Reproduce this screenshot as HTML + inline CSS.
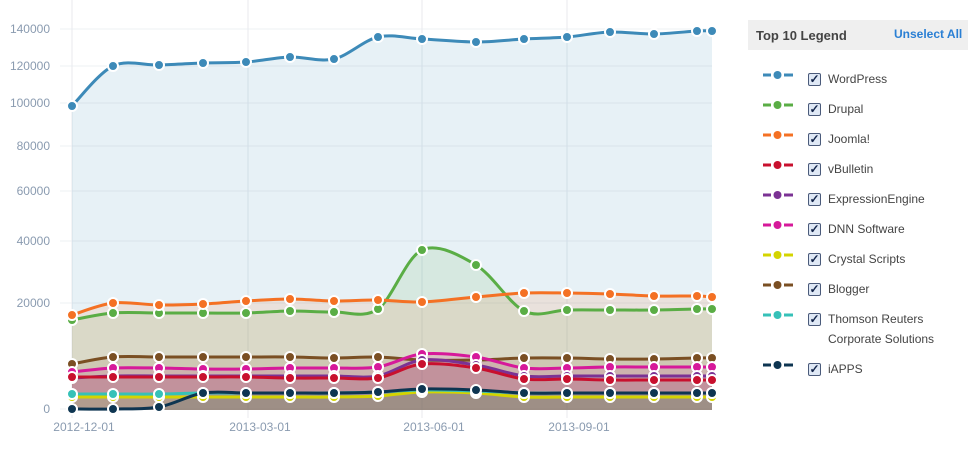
<!DOCTYPE html>
<html><head><meta charset="utf-8"><style>
body{margin:0;background:#fff;font-family:"Liberation Sans",sans-serif;}
.lg{position:absolute;font-size:12px;color:#444;}
</style></head><body>
<div style="position:relative;width:974px;height:470px;overflow:hidden">
<svg id="s" width="974" height="470" style="position:absolute;left:0;top:0"></svg>
<div style="position:absolute;left:748px;top:20px;width:220px;height:30px;background:#efefef"></div>
<div style="position:absolute;left:756px;top:28px;font-size:13px;font-weight:bold;color:#444">Top 10 Legend</div>
<div style="position:absolute;left:894px;top:27px;font-size:12px;font-weight:bold;color:#2a7fd4">Unselect All</div>
<div id="lg"></div>
</div>
<script>
const X=[72,113,159,203,246,290,334,378,422,476,524,567,610,654,697,712];
const S=[
["WordPress","#3d8ab8",[106,66,65,63,62,57,59,37,39,42,39,37,32,34,31,31]],
["Drupal","#5aad45",[320,313,313,313,313,311,312,309,250,265,311,310,310,310,309,309]],
["Joomla!","#f47124",[315,303,305,304,301,299,301,300,302,297,293,293,294,296,296,297]],
["vBulletin","#c8102e",[377,377,377,377,377,378,378,378,364,368,379,379,380,380,380,380]],
["ExpressionEngine","#7b3294",[378,376,376,376,376,376,376,376,360,365,376,376,376,376,376,376]],
["DNN Software","#d6199a",[372,368,368,369,369,368,368,367,354,357,368,368,367,367,367,367]],
["Crystal Scripts","#d4d400",[397,397,397,397,397,397,397,396,392,393,397,397,397,397,397,397]],
["Blogger","#7a4f23",[364,357,357,357,357,357,358,357,360,360,358,358,359,359,358,358]],
["Thomson Reuters","#36c1b8",[394,394,394,393,393,393,393,392,390,391,393,393,393,393,393,393]],
["iAPPS","#0e3551",[409,409,407,393,393,393,393,392,389,390,393,393,393,393,393,393]]];
function path(Y){let d="M"+X[0]+","+Y[0];for(let i=0;i<X.length-1;i++){const p0=[X[Math.max(i-1,0)],Y[Math.max(i-1,0)]],p1=[X[i],Y[i]],p2=[X[i+1],Y[i+1]],p3=[X[Math.min(i+2,X.length-1)],Y[Math.min(i+2,X.length-1)]];const t=0.16;d+=` C${p1[0]+(p2[0]-p0[0])*t},${p1[1]+(p2[1]-p0[1])*t} ${p2[0]-(p3[0]-p1[0])*t},${p2[1]-(p3[1]-p1[1])*t} ${p2[0]},${p2[1]}`;}return d;}
let h='';
[[29,"140000"],[66,"120000"],[103,"100000"],[146,"80000"],[191,"60000"],[241,"40000"],[303,"20000"],[409,"0"]].forEach(([y,t])=>{h+=`<line x1="60" x2="712" y1="${y}" y2="${y}" stroke="#eef0f3"/><text x="50" y="${y+4}" text-anchor="end" font-size="12" fill="#8a9bb0">${t}</text>`;});
[[72,"2012-12-01"],[248,"2013-03-01"],[422,"2013-06-01"],[567,"2013-09-01"]].forEach(([x,t])=>{h+=`<line x1="${x}" x2="${x}" y1="0" y2="418" stroke="#e8eaee"/><text x="${x+12}" y="431" text-anchor="middle" font-size="12" fill="#8a9bb0">${t}</text>`;});
S.forEach(s=>{h+=`<path d="${path(s[2])} L712,410 L72,410Z" fill="${s[1]}" fill-opacity="0.12"/>`;});
[6,8,9,7,5,4,3,1,2,0].forEach(k=>{const s=S[k];h+=`<path d="${path(s[2])}" fill="none" stroke="${s[1]}" stroke-width="3"/>`;s[2].forEach((y,i)=>{h+=`<circle cx="${X[i]}" cy="${y}" r="5" fill="${s[1]}" stroke="#fff" stroke-width="2"/>`;});});
document.getElementById('s').innerHTML=h;
let L='',ys=[80,110,140,170,200,230,260,290,320,370];
S.forEach((s,i)=>{const y=ys[i];const name=i==8?"Thomson Reuters<br>Corporate Solutions":s[0];
L+=`<svg style="position:absolute;left:762px;top:${y-11}px" width="32" height="12"><line x1="1" x2="9" y1="6" y2="6" stroke="${s[1]}" stroke-width="3"/><line x1="22" x2="31" y1="6" y2="6" stroke="${s[1]}" stroke-width="3"/><circle cx="15.5" cy="6" r="4" fill="${s[1]}"/></svg>`;
L+=`<div style="position:absolute;left:808px;top:${y-7}px;width:11px;height:11px;border:1px solid #4a5a7a;border-radius:2px;background:#dfe8f5;font-size:12px;line-height:11px;color:#12244a;text-align:center;font-weight:bold">✓</div>`;
L+=`<div class="lg" style="left:828px;top:${y-7}px;line-height:20px;margin-top:-4px">${name}</div>`;});
document.getElementById('lg').innerHTML=L;
</script>
</body></html>
